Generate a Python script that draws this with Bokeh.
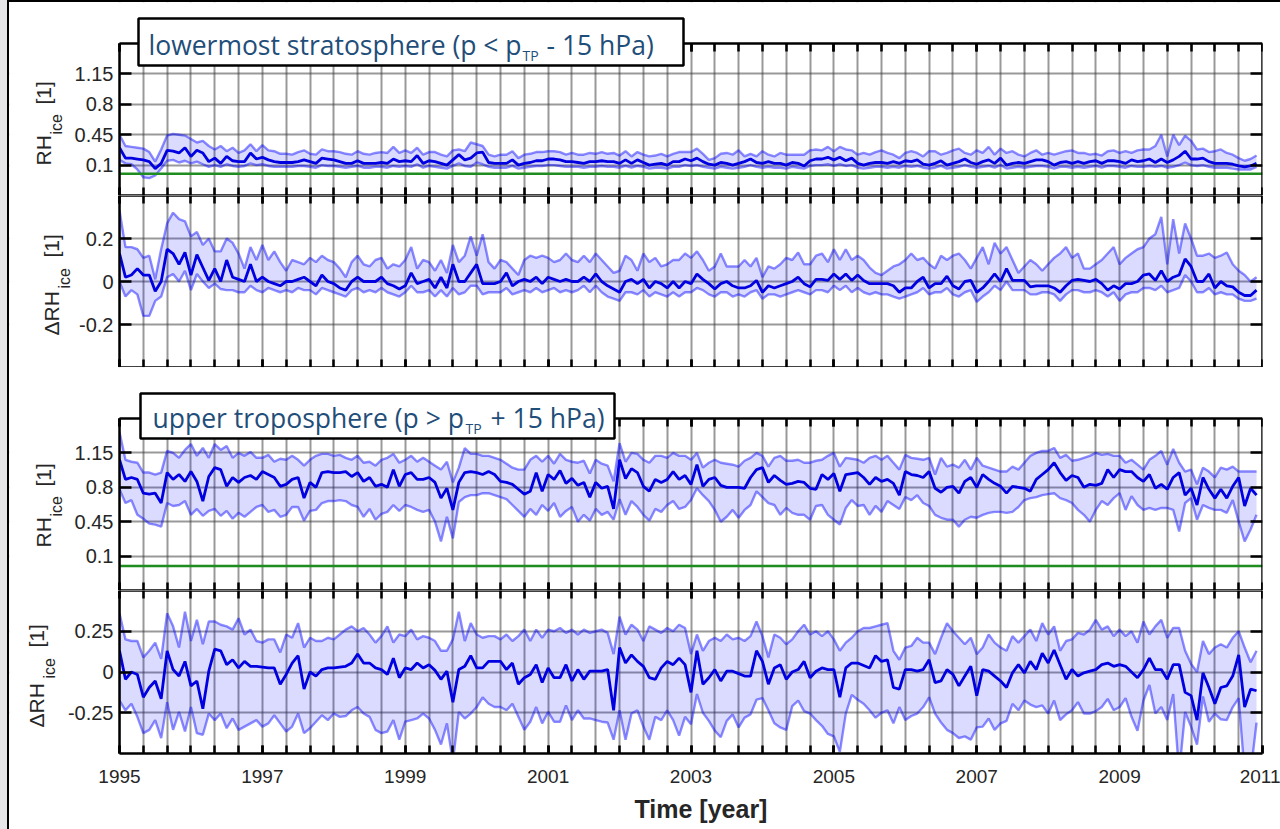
import math
from bokeh.plotting import figure
from bokeh.models import (Range1d, LinearAxis, FixedTicker, Grid, Label, BoxAnnotation,
                          CustomJSTickFormatter, Title)
from bokeh.layouts import column
from bokeh.embed import file_html
from bokeh.resources import INLINE

# ---------------- data (monthly, Jan 1995 .. Dec 2010) ----------------
time = [1995 + m / 12 for m in range(192)]

lms_rh_mean = [
    0.30, 0.18, 0.18, 0.17, 0.16, 0.14, 0.06, 0.12, 0.27, 0.26, 0.24, 0.30,
    0.20, 0.27, 0.24, 0.14, 0.18, 0.12, 0.20, 0.15, 0.14, 0.14, 0.24, 0.17,
    0.19, 0.16, 0.14, 0.13, 0.13, 0.13, 0.14, 0.16, 0.14, 0.12, 0.18, 0.17,
    0.16, 0.14, 0.12, 0.12, 0.15, 0.12, 0.12, 0.12, 0.13, 0.12, 0.17, 0.14,
    0.15, 0.14, 0.21, 0.12, 0.15, 0.14, 0.12, 0.10, 0.16, 0.22, 0.16, 0.18,
    0.24, 0.25, 0.13, 0.12, 0.12, 0.12, 0.16, 0.10, 0.12, 0.13, 0.15, 0.15,
    0.17, 0.17, 0.16, 0.14, 0.14, 0.13, 0.12, 0.14, 0.14, 0.15, 0.14, 0.14,
    0.12, 0.16, 0.12, 0.16, 0.13, 0.10, 0.11, 0.12, 0.10, 0.14, 0.14, 0.17,
    0.15, 0.18, 0.14, 0.11, 0.10, 0.13, 0.12, 0.10, 0.12, 0.14, 0.17, 0.13,
    0.12, 0.14, 0.12, 0.12, 0.10, 0.13, 0.12, 0.09, 0.15, 0.17, 0.17, 0.19,
    0.16, 0.19, 0.15, 0.18, 0.12, 0.10, 0.12, 0.13, 0.13, 0.12, 0.14, 0.12,
    0.15, 0.14, 0.16, 0.11, 0.10, 0.12, 0.15, 0.10, 0.12, 0.14, 0.17, 0.13,
    0.11, 0.14, 0.16, 0.12, 0.18, 0.10, 0.12, 0.13, 0.12, 0.14, 0.16, 0.16,
    0.14, 0.10, 0.13, 0.14, 0.12, 0.14, 0.12, 0.14, 0.15, 0.12, 0.15, 0.15,
    0.14, 0.12, 0.16, 0.14, 0.15, 0.17, 0.13, 0.17, 0.13, 0.16, 0.20, 0.26,
    0.17, 0.17, 0.18, 0.14, 0.12, 0.12, 0.12, 0.11, 0.09, 0.08, 0.09, 0.12,
]
lms_rh_upper = [
    0.45, 0.32, 0.31, 0.30, 0.29, 0.25, 0.14, 0.28, 0.44, 0.46, 0.45, 0.44,
    0.40, 0.36, 0.38, 0.32, 0.28, 0.32, 0.26, 0.30, 0.24, 0.27, 0.34, 0.26,
    0.33, 0.27, 0.26, 0.23, 0.23, 0.22, 0.25, 0.27, 0.23, 0.22, 0.28, 0.26,
    0.26, 0.25, 0.23, 0.22, 0.26, 0.23, 0.22, 0.24, 0.25, 0.24, 0.31, 0.24,
    0.27, 0.24, 0.30, 0.22, 0.25, 0.25, 0.22, 0.20, 0.27, 0.28, 0.26, 0.36,
    0.34, 0.32, 0.22, 0.20, 0.22, 0.22, 0.26, 0.18, 0.22, 0.23, 0.25, 0.25,
    0.26, 0.26, 0.25, 0.22, 0.24, 0.22, 0.22, 0.24, 0.23, 0.25, 0.23, 0.24,
    0.21, 0.26, 0.20, 0.25, 0.22, 0.20, 0.21, 0.23, 0.20, 0.23, 0.25, 0.25,
    0.25, 0.29, 0.23, 0.16, 0.18, 0.23, 0.24, 0.22, 0.27, 0.20, 0.23, 0.20,
    0.26, 0.22, 0.20, 0.24, 0.22, 0.22, 0.22, 0.22, 0.27, 0.28, 0.27, 0.31,
    0.26, 0.31, 0.28, 0.27, 0.22, 0.24, 0.22, 0.25, 0.27, 0.24, 0.22, 0.18,
    0.24, 0.26, 0.24, 0.20, 0.26, 0.26, 0.22, 0.24, 0.27, 0.29, 0.24, 0.22,
    0.27, 0.24, 0.31, 0.22, 0.29, 0.24, 0.26, 0.22, 0.20, 0.24, 0.27, 0.22,
    0.24, 0.22, 0.24, 0.26, 0.27, 0.24, 0.24, 0.22, 0.23, 0.21, 0.26, 0.27,
    0.24, 0.26, 0.24, 0.27, 0.28, 0.28, 0.32, 0.45, 0.20, 0.45, 0.33, 0.44,
    0.38, 0.28, 0.29, 0.25, 0.26, 0.28, 0.24, 0.22, 0.18, 0.15, 0.17, 0.21,
]
lms_rh_lower = [
    0.16, 0.12, 0.11, 0.05, -0.04, -0.05, -0.02, 0.06, 0.15, 0.16, 0.13, 0.15,
    0.12, 0.14, 0.11, 0.08, 0.10, 0.08, 0.11, 0.09, 0.08, 0.09, 0.12, 0.10,
    0.11, 0.09, 0.08, 0.08, 0.08, 0.08, 0.09, 0.09, 0.08, 0.07, 0.10, 0.09,
    0.09, 0.08, 0.07, 0.08, 0.09, 0.07, 0.07, 0.08, 0.08, 0.07, 0.09, 0.08,
    0.09, 0.08, 0.11, 0.07, 0.09, 0.08, 0.07, 0.06, 0.09, 0.12, 0.09, 0.08,
    0.13, 0.11, 0.08, 0.07, 0.07, 0.07, 0.09, 0.06, 0.07, 0.08, 0.09, 0.09,
    0.10, 0.10, 0.09, 0.08, 0.08, 0.08, 0.07, 0.08, 0.08, 0.09, 0.08, 0.08,
    0.07, 0.09, 0.07, 0.09, 0.08, 0.06, 0.07, 0.07, 0.06, 0.08, 0.08, 0.10,
    0.09, 0.10, 0.08, 0.07, 0.06, 0.08, 0.07, 0.06, 0.07, 0.08, 0.10, 0.08,
    0.07, 0.08, 0.07, 0.07, 0.06, 0.08, 0.07, 0.06, 0.09, 0.10, 0.10, 0.11,
    0.09, 0.11, 0.09, 0.10, 0.07, 0.06, 0.07, 0.08, 0.08, 0.07, 0.08, 0.07,
    0.09, 0.08, 0.09, 0.07, 0.06, 0.07, 0.09, 0.06, 0.07, 0.08, 0.10, 0.08,
    0.07, 0.08, 0.09, 0.07, 0.10, 0.06, 0.07, 0.08, 0.07, 0.08, 0.09, 0.09,
    0.08, 0.06, 0.08, 0.08, 0.07, 0.08, 0.07, 0.08, 0.09, 0.07, 0.09, 0.09,
    0.08, 0.07, 0.09, 0.08, 0.08, 0.09, 0.08, 0.09, 0.07, 0.08, 0.10, 0.13,
    0.10, 0.09, 0.10, 0.08, 0.07, 0.07, 0.07, 0.06, 0.05, 0.05, 0.05, 0.08,
]

lms_drh_mean = [
    0.13, 0.02, 0.03, 0.06, 0.03, 0.03, -0.045, 0.0, 0.15, 0.13, 0.08, 0.135,
    0.03, 0.125, 0.065, 0.005, 0.06, 0.0, 0.10, 0.02, 0.01, 0.0, 0.08, 0.0,
    0.02, 0.0, -0.01, -0.02, 0.0, 0.0, 0.01, 0.02, 0.0, -0.02, 0.03, 0.0,
    -0.01, -0.03, -0.04, 0.0, 0.02, 0.0, 0.0, 0.0, 0.02, -0.01, -0.02, -0.035,
    -0.02, 0.04, -0.01, 0.0, 0.01, -0.03, 0.02, -0.03, 0.08, 0.0, 0.0, 0.04,
    0.08, -0.01, -0.01, -0.01, 0.0, 0.04, -0.02, 0.0, 0.01, 0.0, 0.02, -0.01,
    0.02, 0.01, 0.0, 0.01, 0.0, 0.0, 0.02, 0.0, 0.035, 0.0, -0.02, -0.035,
    -0.05, 0.0, 0.01, -0.01, 0.01, -0.03, 0.0, -0.01, -0.03, 0.0, -0.03, 0.0,
    -0.01, 0.035, 0.01, -0.01, -0.035, -0.01, 0.0, -0.02, -0.03, -0.03, -0.02, 0.005,
    -0.05, -0.02, -0.03, -0.02, -0.01, 0.0, 0.02, -0.01, -0.025, 0.01, 0.01, 0.005,
    0.035, 0.01, 0.035, 0.005, 0.03, 0.005, -0.01, -0.01, -0.01, -0.01, -0.02, -0.05,
    -0.03, -0.03, 0.0, 0.02, -0.03, -0.01, -0.01, 0.025, -0.02, -0.035, 0.0, 0.005,
    -0.05, -0.03, 0.0, 0.035, 0.0, 0.06, 0.005, 0.005, 0.005, -0.025, -0.02, -0.02,
    -0.02, -0.03, -0.05, -0.02, 0.005, 0.01, 0.005, 0.0, 0.01, -0.01, -0.04, -0.02,
    -0.035, -0.01, -0.01, 0.0, 0.03, 0.035, 0.005, 0.05, 0.0, 0.02, 0.03, 0.105,
    0.07, 0.0, 0.0, 0.035, -0.03, 0.0, -0.02, -0.025, -0.05, -0.065, -0.065, -0.04,
]
lms_drh_upper = [
    0.33, 0.16, 0.16, 0.15, 0.11, 0.12, 0.01, 0.15, 0.27, 0.32, 0.29, 0.28,
    0.21, 0.23, 0.17, 0.20, 0.14, 0.14, 0.20, 0.18, 0.13, 0.06, 0.16, 0.10,
    0.17, 0.10, 0.14, 0.09, 0.05, 0.10, 0.09, 0.08, 0.11, 0.09, 0.12, 0.10,
    0.09, 0.06, 0.02, 0.09, 0.12, 0.08, 0.07, 0.10, 0.11, 0.06, 0.08, 0.07,
    0.10, 0.16, 0.06, 0.10, 0.09, 0.05, 0.10, 0.04, 0.17, 0.09, 0.12, 0.21,
    0.12, 0.22, 0.09, 0.06, 0.10, 0.09, 0.06, 0.03, 0.10, 0.12, 0.11, 0.12,
    0.11, 0.09, 0.10, 0.13, 0.10, 0.09, 0.12, 0.09, 0.13, 0.10, 0.07, 0.04,
    0.05, 0.12, 0.10, 0.05, 0.13, 0.09, 0.11, 0.07, 0.08, 0.10, 0.10, 0.13,
    0.11, 0.14, 0.10, 0.05, 0.07, 0.13, 0.07, 0.07, 0.07, 0.10, 0.07, 0.11,
    0.02, 0.07, 0.06, 0.08, 0.11, 0.10, 0.135, 0.08, 0.08, 0.12, 0.13, 0.09,
    0.15, 0.10, 0.15, 0.10, 0.12, 0.10, 0.065, 0.04, 0.03, 0.05, 0.07, 0.08,
    0.10, 0.13, 0.10, 0.11, 0.08, 0.06, 0.12, 0.10, 0.12, 0.13, 0.10, 0.06,
    0.11, 0.16, 0.08, 0.18, 0.13, 0.16, 0.10, 0.04, 0.07, 0.10, 0.08, 0.05,
    0.08, 0.11, 0.13, 0.16, 0.11, 0.13, 0.06, 0.06, 0.08, 0.10, 0.13, 0.16,
    0.08, 0.11, 0.13, 0.15, 0.16, 0.20, 0.22, 0.30, 0.08, 0.29, 0.13, 0.27,
    0.20, 0.12, 0.12, 0.13, 0.11, 0.12, 0.135, 0.08, 0.05, 0.03, 0.0, 0.02,
]
lms_drh_lower = [
    0.0, -0.07, -0.04, -0.06, -0.16, -0.16, -0.09, -0.07, 0.02, 0.035, 0.0, 0.05,
    -0.04, 0.035, 0.0, -0.03, -0.01, -0.035, -0.04, -0.04, -0.05, -0.05, -0.02, -0.04,
    -0.05, -0.03, -0.04, -0.05, -0.04, -0.05, -0.03, -0.04, -0.04, -0.06, -0.03, -0.04,
    -0.05, -0.06, -0.07, -0.04, -0.03, -0.05, -0.04, -0.05, -0.03, -0.05, -0.06, -0.07,
    -0.05, -0.02, -0.05, -0.05, -0.04, -0.07, -0.04, -0.07, -0.03, -0.06, -0.05, -0.02,
    -0.02, -0.06, -0.05, -0.05, -0.05, -0.03, -0.06, -0.05, -0.04, -0.05, -0.03, -0.05,
    -0.04, -0.03, -0.05, -0.04, -0.05, -0.04, -0.02, -0.05, -0.02, -0.05, -0.07, -0.08,
    -0.09, -0.05, -0.05, -0.06, -0.04, -0.07, -0.05, -0.06, -0.07, -0.05, -0.07, -0.05,
    -0.05, -0.03, -0.04, -0.06, -0.07, -0.05, -0.05, -0.07, -0.06, -0.07, -0.05, -0.04,
    -0.08, -0.06, -0.06, -0.07, -0.06, -0.05, -0.04, -0.05, -0.06, -0.04, -0.04, -0.05,
    -0.02, -0.04, -0.02, -0.05, -0.03, -0.05, -0.06, -0.05, -0.06, -0.06, -0.07, -0.08,
    -0.07, -0.06, -0.05, -0.03, -0.06, -0.05, -0.05, -0.03, -0.06, -0.07, -0.05, -0.04,
    -0.095, -0.07, -0.05, -0.02, -0.04, 0.0, -0.04, -0.04, -0.04, -0.06, -0.06, -0.05,
    -0.05, -0.06, -0.09, -0.06, -0.04, -0.04, -0.05, -0.05, -0.04, -0.05, -0.07, -0.05,
    -0.09, -0.06, -0.05, -0.05, -0.03, -0.03, -0.04, -0.02, -0.05, -0.04, -0.03, 0.03,
    0.0, -0.05, -0.05, -0.03, -0.06, -0.05, -0.06, -0.06, -0.08, -0.09, -0.09, -0.08,
]

ut_rh_mean = [
    1.08, 0.88, 0.90, 0.88, 0.74, 0.73, 0.74, 0.64, 0.95, 0.88, 0.93, 0.86,
    0.96, 0.86, 0.66, 0.91, 1.00, 0.98, 0.81, 0.90, 0.85, 0.90, 0.92, 0.88,
    0.96, 0.93, 0.90, 0.81, 0.83, 0.88, 0.90, 0.69, 0.85, 0.80, 0.95, 0.96,
    0.95, 0.95, 0.96, 0.91, 0.95, 0.86, 0.90, 0.81, 0.83, 0.80, 0.98, 0.81,
    0.93, 0.95, 0.88, 0.88, 0.90, 0.85, 0.69, 0.79, 0.57, 0.85, 0.95, 0.96,
    0.95, 0.93, 0.96, 0.93, 0.86, 0.85, 0.83, 0.78, 0.73, 0.76, 0.95, 0.76,
    0.93, 0.88, 0.97, 0.84, 0.89, 0.82, 0.85, 0.70, 0.85, 0.79, 0.81, 0.58,
    1.08, 0.89, 0.99, 0.95, 0.81, 0.76, 0.88, 0.85, 0.88, 0.96, 0.88, 0.92,
    0.83, 1.03, 0.81, 0.88, 0.90, 0.82, 0.80, 0.80, 0.80, 0.79, 0.90, 0.98,
    1.00, 0.85, 0.92, 0.87, 0.83, 0.84, 0.86, 0.85, 0.79, 0.78, 0.93, 0.88,
    0.94, 0.76, 0.93, 0.94, 0.95, 0.90, 0.83, 0.90, 0.86, 0.88, 0.84, 0.72,
    0.96, 0.93, 0.92, 0.90, 0.96, 0.79, 0.75, 0.80, 0.81, 0.74, 0.86, 0.90,
    0.80, 0.93, 0.88, 0.84, 0.81, 0.74, 0.81, 0.80, 0.79, 0.76, 0.88, 0.93,
    0.98, 1.05, 0.95, 0.87, 0.92, 0.90, 0.80, 0.83, 0.82, 0.84, 0.98, 0.90,
    0.98, 0.96, 0.96, 0.90, 0.86, 0.93, 0.79, 0.83, 0.78, 0.90, 0.95, 0.72,
    0.79, 0.62, 0.90, 0.78, 0.69, 0.78, 0.69, 0.81, 0.90, 0.61, 0.79, 0.72,
]
ut_rh_upper = [
    1.36, 1.08, 1.06, 1.05, 0.95, 0.95, 0.93, 0.95, 1.17, 1.15, 1.10, 1.18,
    1.24, 1.12, 1.20, 1.10, 1.24, 1.18, 1.22, 1.10, 1.15, 1.12, 1.16, 1.10,
    1.10, 1.13, 1.06, 1.09, 1.08, 1.12, 1.08, 1.02, 1.08, 1.12, 1.14, 1.14,
    1.12, 1.13, 1.10, 1.08, 1.12, 1.05, 1.06, 1.02, 1.08, 1.10, 1.14, 1.05,
    1.08, 1.12, 1.06, 1.10, 1.06, 1.02, 0.98, 1.06, 0.85, 1.00, 1.20, 1.14,
    1.14, 1.12, 1.12, 1.10, 1.08, 1.04, 1.00, 0.98, 0.98, 1.08, 1.12, 1.06,
    1.12, 1.04, 1.14, 1.08, 1.06, 1.05, 1.07, 0.94, 1.08, 1.04, 1.02, 0.86,
    1.25, 1.06, 1.15, 1.14, 1.08, 1.05, 1.12, 1.12, 1.10, 1.15, 1.12, 1.12,
    1.08, 1.15, 1.00, 1.05, 1.08, 1.05, 1.04, 1.03, 1.01, 1.07, 1.10, 1.15,
    1.12, 1.01, 1.10, 1.12, 1.07, 1.07, 1.08, 1.05, 1.05, 1.07, 1.08, 1.12,
    1.15, 1.01, 1.10, 1.09, 1.08, 1.05, 1.10, 1.12, 1.08, 1.12, 1.05, 0.98,
    1.13, 1.10, 1.09, 1.08, 1.10, 0.93, 1.10, 1.01, 1.03, 1.00, 1.08, 0.98,
    1.10, 1.02, 1.00, 0.98, 0.96, 0.96, 1.01, 0.98, 1.05, 1.12, 1.15, 1.17,
    1.17, 1.20, 1.10, 1.13, 1.07, 1.08, 1.10, 1.12, 1.15, 1.13, 1.14, 1.12,
    1.12, 1.05, 1.08, 1.03, 0.98, 1.08, 1.12, 1.17, 1.03, 1.19, 1.05, 0.96,
    0.98, 0.83, 1.00, 0.96, 0.90, 1.00, 0.98, 1.01, 0.96, 0.96, 0.96, 0.96,
]
ut_rh_lower = [
    0.78, 0.64, 0.67, 0.52, 0.48, 0.43, 0.42, 0.40, 0.64, 0.61, 0.62, 0.66,
    0.52, 0.58, 0.51, 0.56, 0.58, 0.51, 0.56, 0.48, 0.54, 0.50, 0.55, 0.60,
    0.62, 0.55, 0.57, 0.50, 0.52, 0.60, 0.60, 0.46, 0.56, 0.57, 0.64, 0.66,
    0.66, 0.67, 0.66, 0.62, 0.60, 0.50, 0.58, 0.47, 0.53, 0.55, 0.62, 0.56,
    0.62, 0.60, 0.57, 0.55, 0.57, 0.45, 0.25, 0.50, 0.28, 0.65, 0.70, 0.72,
    0.72, 0.74, 0.74, 0.72, 0.70, 0.68, 0.62, 0.56, 0.50, 0.58, 0.52, 0.62,
    0.56, 0.64, 0.50, 0.56, 0.60, 0.45, 0.52, 0.46, 0.58, 0.52, 0.55, 0.47,
    0.68, 0.52, 0.66, 0.60, 0.52, 0.46, 0.58, 0.55, 0.62, 0.66, 0.58, 0.60,
    0.67, 0.79, 0.72, 0.66, 0.57, 0.45, 0.50, 0.57, 0.49, 0.57, 0.62, 0.76,
    0.70, 0.64, 0.62, 0.52, 0.59, 0.54, 0.52, 0.52, 0.47, 0.61, 0.62, 0.52,
    0.47, 0.42, 0.59, 0.67, 0.61, 0.62, 0.52, 0.61, 0.55, 0.66, 0.62, 0.58,
    0.70, 0.67, 0.72, 0.64, 0.61, 0.52, 0.49, 0.47, 0.47, 0.40, 0.47, 0.50,
    0.49, 0.52, 0.54, 0.55, 0.55, 0.54, 0.55, 0.60, 0.67, 0.69, 0.70, 0.72,
    0.73, 0.74, 0.69, 0.67, 0.64, 0.57, 0.52, 0.45, 0.57, 0.66, 0.62, 0.69,
    0.74, 0.57, 0.71, 0.62, 0.57, 0.59, 0.57, 0.59, 0.59, 0.57, 0.35, 0.64,
    0.69, 0.47, 0.62, 0.59, 0.57, 0.57, 0.54, 0.67, 0.45, 0.25, 0.37, 0.52,
]

ut_drh_mean = [
    0.13, -0.045, 0.0, -0.015, -0.155, -0.095, -0.055, -0.165, 0.13, 0.015, -0.025, 0.065,
    -0.085, -0.055, -0.225, 0.005, 0.14, 0.13, 0.045, 0.075, 0.025, 0.065, 0.035, 0.035,
    0.03, 0.025, 0.025, -0.075, -0.015, 0.055, 0.10, -0.105, 0.0, -0.025, 0.015, 0.025,
    0.025, 0.03, 0.035, 0.055, 0.11, 0.055, 0.055, 0.025, 0.015, -0.015, 0.085, -0.035,
    0.025, 0.015, 0.055, 0.025, 0.045, 0.01, -0.045, 0.005, -0.185, 0.015, 0.035, 0.10,
    0.025, 0.025, 0.065, 0.065, 0.065, 0.015, 0.055, -0.075, -0.035, -0.015, 0.045, -0.065,
    0.025, -0.035, -0.035, 0.045, -0.055, 0.015, -0.045, 0.005, 0.005, 0.005, 0.015, -0.235,
    0.15, 0.055, 0.105, 0.065, 0.035, -0.035, -0.045, 0.025, 0.065, 0.045, 0.085, 0.045,
    -0.125, 0.13, -0.075, -0.035, 0.015, -0.055, 0.005, 0.005, -0.01, -0.025, -0.025, 0.13,
    0.065, -0.075, 0.025, 0.045, -0.045, 0.0, 0.015, 0.065, -0.035, 0.005, 0.025, 0.015,
    0.015, -0.155, 0.025, 0.055, 0.055, 0.04, 0.025, 0.10, 0.065, 0.075, -0.095, -0.105,
    0.015, 0.015, 0.005, 0.015, 0.075, -0.065, -0.055, 0.015, -0.015, -0.085, -0.025, 0.035,
    -0.145, 0.015, 0.005, -0.025, -0.055, -0.095, -0.005, 0.045, -0.005, 0.065, 0.015, 0.115,
    0.055, 0.135, 0.045, -0.045, 0.015, -0.025, -0.005, 0.005, 0.015, 0.045, 0.055, 0.035,
    0.045, 0.035, 0.0, -0.035, 0.015, 0.085, 0.015, 0.015, -0.045, 0.045, 0.045, -0.125,
    -0.145, -0.295, -0.005, -0.095, -0.195, -0.095, -0.085, -0.025, 0.105, -0.215, -0.105, -0.115,
]
ut_drh_upper = [
    0.36, 0.20, 0.19, 0.19, 0.09, 0.13, 0.18, 0.08, 0.36, 0.28, 0.15, 0.37,
    0.19, 0.32, 0.17, 0.31, 0.31, 0.29, 0.28, 0.26, 0.33, 0.23, 0.26, 0.19,
    0.18, 0.20, 0.20, 0.12, 0.23, 0.21, 0.30, 0.15, 0.21, 0.19, 0.19, 0.21,
    0.20, 0.23, 0.26, 0.28, 0.25, 0.27, 0.23, 0.18, 0.22, 0.28, 0.18, 0.23,
    0.22, 0.26, 0.20, 0.22, 0.21, 0.19, 0.13, 0.13, 0.20, 0.37, 0.19, 0.30,
    0.23, 0.21, 0.22, 0.22, 0.20, 0.23, 0.19, 0.22, 0.26, 0.19, 0.26, 0.21,
    0.26, 0.25, 0.27, 0.24, 0.26, 0.23, 0.26, 0.24, 0.25, 0.26, 0.24, 0.11,
    0.34, 0.23, 0.29, 0.26, 0.19, 0.28, 0.26, 0.24, 0.27, 0.25, 0.29, 0.27,
    0.11, 0.23, 0.13, 0.19, 0.21, 0.19, 0.23, 0.20, 0.21, 0.19, 0.22, 0.31,
    0.22, 0.09, 0.23, 0.21, 0.17, 0.20, 0.25, 0.29, 0.23, 0.25, 0.22, 0.25,
    0.20, 0.13, 0.18, 0.21, 0.25, 0.27, 0.27, 0.28, 0.29, 0.30, 0.13, 0.075,
    0.15, 0.16, 0.21, 0.18, 0.18, 0.11, 0.21, 0.30, 0.25, 0.21, 0.17, 0.21,
    0.11, 0.15, 0.23, 0.18, 0.15, 0.13, 0.22, 0.18, 0.22, 0.26, 0.19, 0.30,
    0.23, 0.28, 0.13, 0.19, 0.20, 0.24, 0.23, 0.26, 0.32, 0.26, 0.28, 0.22,
    0.26, 0.22, 0.25, 0.18, 0.31, 0.23, 0.28, 0.32, 0.21, 0.27, 0.27, 0.13,
    0.05, 0.0, 0.19, 0.11, 0.15, 0.17, 0.15, 0.21, 0.25, 0.15, 0.06, 0.13,
]
ut_drh_lower = [
    -0.175, -0.235, -0.195, -0.275, -0.375, -0.355, -0.295, -0.405, -0.185, -0.355, -0.245, -0.365,
    -0.215, -0.375, -0.385, -0.255, -0.295, -0.255, -0.345, -0.285, -0.355, -0.335, -0.315, -0.295,
    -0.335, -0.315, -0.265, -0.315, -0.365, -0.335, -0.255, -0.375, -0.345, -0.305, -0.265, -0.295,
    -0.255, -0.275, -0.27, -0.235, -0.215, -0.255, -0.275, -0.355, -0.375, -0.365, -0.295, -0.415,
    -0.305, -0.295, -0.285, -0.255, -0.285, -0.355, -0.445, -0.315, -0.55, -0.245, -0.285, -0.255,
    -0.215, -0.155, -0.195, -0.215, -0.215, -0.235, -0.195, -0.275, -0.355, -0.305, -0.215, -0.315,
    -0.245, -0.305, -0.305, -0.205, -0.295, -0.235, -0.285, -0.285, -0.295, -0.305, -0.31, -0.415,
    -0.235, -0.415, -0.255, -0.235, -0.335, -0.415, -0.275, -0.295, -0.235, -0.295, -0.39, -0.275,
    -0.32, -0.135, -0.25, -0.30, -0.36, -0.40, -0.30, -0.26, -0.34, -0.28, -0.26, -0.17,
    -0.16, -0.235, -0.315, -0.34, -0.355, -0.21, -0.175, -0.24, -0.255, -0.295, -0.33, -0.38,
    -0.395, -0.49, -0.255, -0.14, -0.17, -0.195, -0.235, -0.28, -0.25, -0.235, -0.315, -0.215,
    -0.295, -0.27, -0.255, -0.215, -0.155, -0.255, -0.31, -0.355, -0.375, -0.405, -0.395, -0.415,
    -0.34, -0.335, -0.285, -0.355, -0.315, -0.30, -0.195, -0.235, -0.175, -0.20, -0.215, -0.205,
    -0.255, -0.175, -0.295, -0.26, -0.235, -0.185, -0.255, -0.255, -0.24, -0.215, -0.165, -0.235,
    -0.215, -0.16, -0.275, -0.36, -0.175, -0.08, -0.255, -0.215, -0.295, -0.135, -0.62, -0.245,
    -0.335, -0.445, -0.15, -0.305, -0.255, -0.29, -0.295, -0.215, -0.16, -0.62, -0.62, -0.31,
]

rh_ticks = [0.1, 0.45, 0.8, 1.15]
lms_drh_ticks = [-0.2, 0, 0.2]
ut_drh_ticks = [-0.25, 0, 0.25]
year_labels = [1995, 1997, 1999, 2001, 2003, 2005, 2007, 2009, 2011]
grid_years = [1995 + k / 3 for k in range(49)]
X0, X1 = 1995, 2011

# ---------------- styling / geometry ----------------
TXT = "#262626"
TICK_FONT = "Liberation Sans"
TITLE_FONT = "Open Sans"
TITLE_COLOR = "#1f4e79"
FIG_LEFT = 9          # page x of the figures' left edge
FRAME_LEFT = 119      # page x of the plotted axes box
AX_W = 1143           # axes box width in px
PXY = AX_W / (X1 - X0)
PAD_L = FRAME_LEFT - FIG_LEFT

fmt_plain = CustomJSTickFormatter(code="return String(tick)")


def blank():
    return CustomJSTickFormatter(code="return ''")


def style_axis(ax, tick_len, font_size="19px"):
    ax.axis_line_color = "black"
    ax.axis_line_width = 2.5
    ax.major_tick_line_color = "black"
    ax.major_tick_line_width = 2.5
    ax.minor_tick_line_color = "black"
    ax.minor_tick_line_width = 2.5
    ax.major_tick_in = tick_len
    ax.major_tick_out = 0
    ax.minor_tick_in = tick_len
    ax.minor_tick_out = 0
    ax.major_label_text_font = TICK_FONT
    ax.major_label_text_font_size = font_size
    ax.major_label_text_color = TXT


def make_panel(yr, yticks, fig_top, ax_top, ax_h, mean, upper, lower, zero_line, last):
    """fig_top: page y where this figure starts; ax_top: page y of the axes box top."""
    ext_top = ax_top - fig_top                    # white room above the axes box
    upp = (yr[1] - yr[0]) / ax_h                  # data units per px
    y_hi = yr[1] + ext_top * upp
    x_lo = X0 - PAD_L / PXY
    p = figure(frame_width=AX_W + PAD_L, frame_height=ax_h + ext_top,
               x_range=Range1d(x_lo, X1), y_range=Range1d(yr[0], y_hi),
               x_axis_type=None, y_axis_type=None,
               output_backend="svg", toolbar_location=None,
               min_border_left=0, min_border_right=18,
               min_border_top=0, min_border_bottom=0,
               background_fill_color="white", border_fill_color="white",
               outline_line_color=None)

    gkw = dict(grid_line_color="#333333", grid_line_alpha=0.5, grid_line_width=2)
    p.add_layout(Grid(dimension=0, ticker=FixedTicker(ticks=grid_years), **gkw))
    p.add_layout(Grid(dimension=1, ticker=FixedTicker(ticks=yticks), **gkw))
    # white masks outside the axes box (left label area and room above)
    p.add_layout(BoxAnnotation(right=X0, fill_color="white", fill_alpha=1.0,
                               line_color=None, level="glyph"))
    if ext_top > 0:
        p.add_layout(BoxAnnotation(bottom=yr[1], fill_color="white", fill_alpha=1.0,
                                   line_color=None, level="glyph"))

    left = LinearAxis(ticker=FixedTicker(ticks=yticks), formatter=fmt_plain,
                      fixed_location=X0, bounds=yr)
    style_axis(left, 12, "20px")
    left.major_label_standoff = 6
    p.add_layout(left, "left")

    right = LinearAxis(ticker=FixedTicker(ticks=yticks), formatter=blank(),
                       fixed_location=X1, bounds=yr)
    style_axis(right, 12)
    p.add_layout(right, "right")

    top = LinearAxis(ticker=FixedTicker(ticks=year_labels, minor_ticks=grid_years),
                     formatter=blank(), fixed_location=yr[1], bounds=(X0, X1))
    style_axis(top, 8)
    p.add_layout(top, "above")

    if last:
        bottom = LinearAxis(ticker=FixedTicker(ticks=year_labels, minor_ticks=grid_years),
                            formatter=fmt_plain, bounds=(X0, X1))
        style_axis(bottom, 8)
        bottom.major_label_standoff = 16
        p.add_layout(bottom, "below")
        # x-axis title, centred under the axes box (not under the label margin)
        text_w = 133
        p.add_layout(Title(text="Time [year]", align="left",
                           offset=PAD_L + AX_W / 2 - text_w / 2 + 10,
                           standoff=14, text_font=TICK_FONT, text_font_size="25px",
                           text_font_style="bold", text_color=TXT), "below")
    else:
        bottom = LinearAxis(ticker=FixedTicker(ticks=year_labels, minor_ticks=grid_years),
                            formatter=blank(), fixed_location=yr[0], bounds=(X0, X1))
        style_axis(bottom, 8)
        p.add_layout(bottom, "below")

    # data
    p.varea(x=time, y1=lower, y2=upper, fill_color="#0000ff", fill_alpha=0.14)
    p.line(time, upper, line_color="#0000ff", line_alpha=0.45, line_width=2.4)
    p.line(time, lower, line_color="#0000ff", line_alpha=0.45, line_width=2.4)
    p.line(time, mean, line_color="#0000e0", line_width=2.8)
    if zero_line:
        p.segment(x0=[X0], x1=[X1], y0=[0], y1=[0], line_color="#1e8c1e", line_width=2.5)

    def ydat(page_y):
        return yr[1] - (page_y - ax_top) * upp

    def xdat(page_x):
        return X0 + (page_x - FRAME_LEFT) / PXY

    return p, xdat, ydat


def add_ylabel(p, ydat, delta, y_start, y_sub, y_unit, x_main, x_sub):
    main = ("\u0394RH" if delta else "RH")
    for text, ys, xc, size in ((main, y_start, x_main, "21px"),
                               ("ice", y_sub, x_sub, "16px"),
                               ("[1]", y_unit, x_main, "21px")):
        p.add_layout(Label(x=X0, x_offset=xc - FRAME_LEFT, y=ydat(ys), text=text,
                           angle=math.pi / 2, text_align="left", text_baseline="middle",
                           text_font=TICK_FONT, text_font_size=size, text_color=TXT,
                           level="overlay"))


def add_title_box(p, xdat, ydat, box, pieces):
    l, r, t, b = box
    p.add_layout(BoxAnnotation(left=xdat(l), right=xdat(r), top=ydat(t), bottom=ydat(b),
                               fill_color="white", fill_alpha=1.0,
                               line_color="black", line_alpha=1.0, line_width=2.5,
                               level="overlay"))
    for text, px, py, size in pieces:
        p.add_layout(Label(x=xdat(px), y=ydat(py), text=text, text_align="left",
                           text_baseline="middle", text_font=TITLE_FONT,
                           text_font_size=size, text_color=TITLE_COLOR, level="overlay"))


# ---------------- panels ----------------
p1, x1, y1 = make_panel((-0.25, 1.5), rh_ticks, 2, 43, 152,
                        lms_rh_mean, lms_rh_upper, lms_rh_lower, True, False)
add_ylabel(p1, y1, False, 165, 134, 104, 43, 56)
add_title_box(p1, x1, y1, (138, 683, 18, 65), [
    ("lowermost stratosphere (p < p", 148, 44, "26.5px"),
    ("TP", 522, 55, "14px"),
    ("- 15 hPa)", 546, 44, "26.5px"),
])

p2, x2, y2 = make_panel((-0.4, 0.4), lms_drh_ticks, 195, 195, 172,
                        lms_drh_mean, lms_drh_upper, lms_drh_lower, False, False)
add_ylabel(p2, y2, True, 335, 288, 257, 51, 64)

p3, x3, y3 = make_panel((-0.25, 1.5), rh_ticks, 367, 418, 172,
                        ut_rh_mean, ut_rh_upper, ut_rh_lower, True, False)
add_ylabel(p3, y3, False, 547, 516, 486, 43, 56)
add_title_box(p3, x3, y3, (140, 614, 393, 438), [
    ("upper troposphere (p > p", 152, 417, "26.5px"),
    ("TP", 465, 428, "14px"),
    ("+ 15 hPa)", 490, 417, "26.5px"),
])

p4, x4, y4 = make_panel((-0.5, 0.5), ut_drh_ticks, 590, 590, 163,
                        ut_drh_mean, ut_drh_upper, ut_drh_lower, False, True)
add_ylabel(p4, y4, True, 727, 678, 647, 36, 49)

inner = column(p1, p2, p3, p4, spacing=0,
               styles={"border-left": "2px solid #000", "border-top": "2px solid #000",
                       "background-color": "white"})
layout = column(inner, styles={"background-color": "#e6e6e9", "padding-left": "7px"})

open("out.html", "w").write(file_html(layout, INLINE, title="RH ice time series"))
